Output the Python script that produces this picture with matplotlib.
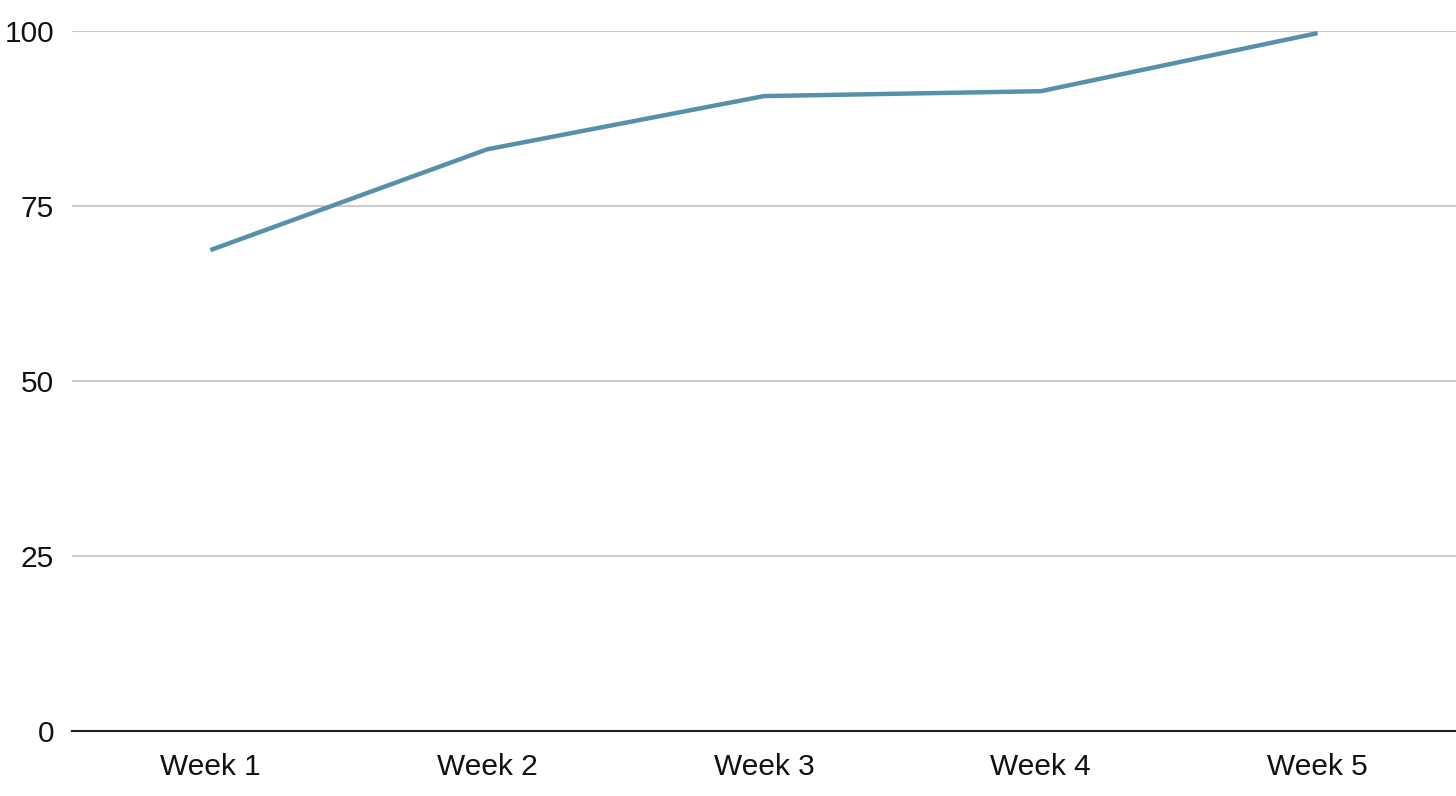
import matplotlib
matplotlib.use("Agg")
import matplotlib.pyplot as plt

weeks = ["Week 1", "Week 2", "Week 3", "Week 4", "Week 5"]
values = [68.7, 83.1, 90.7, 91.4, 99.7]
yticks = [0, 25, 50, 75, 100]

plt.rcParams['font.family'] = ['Liberation Sans', 'DejaVu Sans']

fig = plt.figure(figsize=(14.56, 7.96), dpi=100)
ax = fig.add_axes([72/1456, 1 - 731/796, 1 - 72/1456, (731 - 31)/796])

x = list(range(len(weeks)))
ax.plot(x, values, color="#5591ab", linewidth=3.2, solid_capstyle="butt", zorder=3)

ax.set_xlim(-0.5, len(weeks) - 0.5)
ax.set_ylim(0, 100)
ax.set_yticks(yticks)
ax.set_xticks(x)
ax.set_xticklabels(weeks)
ax.grid(axis="y", color="#cccccc", linewidth=1.5)
ax.set_axisbelow(True)
for s in ["top", "right", "left"]:
    ax.spines[s].set_visible(False)
ax.spines["bottom"].set_color("#222222")
ax.spines["bottom"].set_linewidth(1.5)
ax.spines["bottom"].set_zorder(4)
ax.tick_params(axis="both", length=0, labelsize=21.5, colors="#111111")
ax.tick_params(axis="y", pad=13)
ax.tick_params(axis="x", pad=16)

fig.savefig("out.png", dpi=100, facecolor="white")
